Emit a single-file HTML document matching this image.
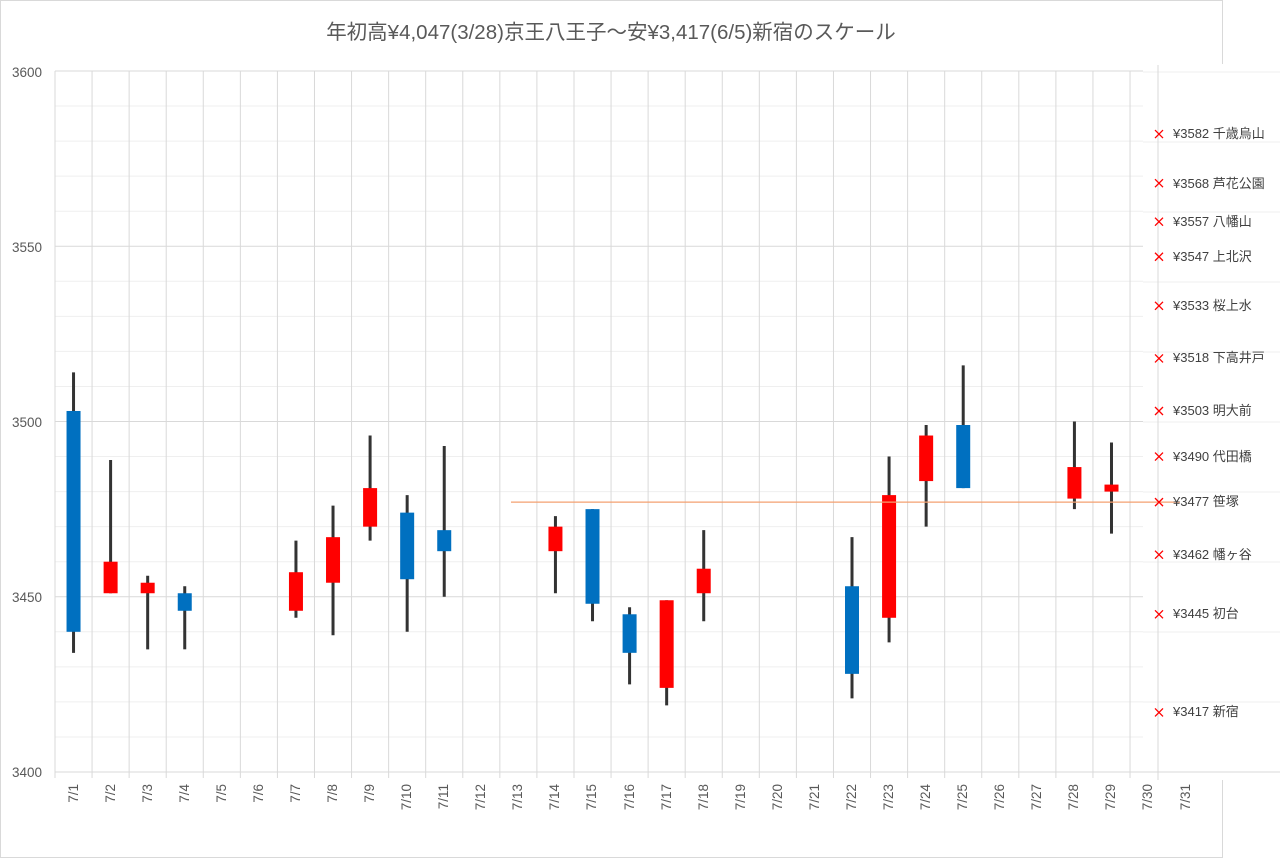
<!DOCTYPE html>
<html><head><meta charset="utf-8"><style>
html,body{margin:0;padding:0;background:#fff;}
svg{display:block;font-family:"Liberation Sans","Noto Sans CJK JP",sans-serif;}
</style></head><body>
<svg id="s" width="1280" height="859" viewBox="0 0 1280 859" xmlns="http://www.w3.org/2000/svg">
<rect x="0" y="0" width="1280" height="859" fill="#fff"/>
<rect x="0.5" y="0.5" width="1222" height="857" fill="none" stroke="#d9d9d9"/>
<g id="grid"></g>
<g id="cdl"></g>
<text x="611" y="39" text-anchor="middle" font-size="20.5" fill="#595959">年初高¥4,047(3/28)京王八王子～安¥3,417(6/5)新宿のスケール</text>
<g font-size="13.5" fill="#595959" text-anchor="end">
<text x="42" y="77">3600</text><text x="42" y="252">3550</text><text x="42" y="427">3500</text><text x="42" y="602">3450</text><text x="42" y="777">3400</text>
</g>
<g font-size="13.5" fill="#595959" text-anchor="end">
<text transform="translate(78,784) rotate(-90)">7/1</text>
<text transform="translate(115,784) rotate(-90)">7/2</text>
<text transform="translate(152,784) rotate(-90)">7/3</text>
<text transform="translate(189,784) rotate(-90)">7/4</text>
<text transform="translate(226,784) rotate(-90)">7/5</text>
<text transform="translate(263,784) rotate(-90)">7/6</text>
<text transform="translate(300,784) rotate(-90)">7/7</text>
<text transform="translate(337,784) rotate(-90)">7/8</text>
<text transform="translate(374,784) rotate(-90)">7/9</text>
<text transform="translate(411,784) rotate(-90)">7/10</text>
<text transform="translate(448,784) rotate(-90)">7/11</text>
<text transform="translate(485,784) rotate(-90)">7/12</text>
<text transform="translate(522,784) rotate(-90)">7/13</text>
<text transform="translate(559,784) rotate(-90)">7/14</text>
<text transform="translate(596,784) rotate(-90)">7/15</text>
<text transform="translate(634,784) rotate(-90)">7/16</text>
<text transform="translate(671,784) rotate(-90)">7/17</text>
<text transform="translate(708,784) rotate(-90)">7/18</text>
<text transform="translate(745,784) rotate(-90)">7/19</text>
<text transform="translate(782,784) rotate(-90)">7/20</text>
<text transform="translate(819,784) rotate(-90)">7/21</text>
<text transform="translate(856,784) rotate(-90)">7/22</text>
<text transform="translate(893,784) rotate(-90)">7/23</text>
<text transform="translate(930,784) rotate(-90)">7/24</text>
<text transform="translate(967,784) rotate(-90)">7/25</text>
<text transform="translate(1004,784) rotate(-90)">7/26</text>
<text transform="translate(1041,784) rotate(-90)">7/27</text>
<text transform="translate(1078,784) rotate(-90)">7/28</text>
<text transform="translate(1115,784) rotate(-90)">7/29</text>
<text transform="translate(1152,784) rotate(-90)">7/30</text>
<text transform="translate(1190,784) rotate(-90)">7/31</text>
</g>
<g id="mk"></g>
<g font-size="13" fill="#404040">
<text x="1173" y="138">¥3582 千歳烏山</text>
<text x="1173" y="188">¥3568 芦花公園</text>
<text x="1173" y="226">¥3557 八幡山</text>
<text x="1173" y="261">¥3547 上北沢</text>
<text x="1173" y="310">¥3533 桜上水</text>
<text x="1173" y="362">¥3518 下高井戸</text>
<text x="1173" y="415">¥3503 明大前</text>
<text x="1173" y="461">¥3490 代田橋</text>
<text x="1173" y="506">¥3477 笹塚</text>
<text x="1173" y="559">¥3462 幡ヶ谷</text>
<text x="1173" y="618">¥3445 初台</text>
<text x="1173" y="716">¥3417 新宿</text>
</g>
</svg>
<script>
const NS="http://www.w3.org/2000/svg";
function el(p,t,a){const e=document.createElementNS(NS,t);for(const k in a)e.setAttribute(k,a[k]);p.appendChild(e);return e;}
const Y=v=>772-(v-3400)*3.505, X=i=>55+37.07*(i-0.5);
const g=document.getElementById('grid');
for(let v=3400;v<=3600;v+=10){const y=Y(v);el(g,'line',{x1:55,x2:1143,y1:y,y2:y,stroke:v%50==0?'#d9d9d9':'#efefef','stroke-width':1});}
el(g,'rect',{x:1143,y:64,width:137,height:716,fill:'#fff'});
for(let k=0;k<=10;k++){const y=72+70*k;el(g,'line',{x1:1143,x2:1280,y1:y,y2:y,stroke:k==10?'#d9d9d9':'#efefef'});}
for(let k=0;k<=30;k++){const x=55+37.07*k;if(x>1140)continue;el(g,'line',{x1:x,x2:x,y1:71,y2:778,stroke:'#d9d9d9'});}
el(g,'line',{x1:1158,x2:1158,y1:65,y2:780,stroke:'#d9d9d9'});
const c=document.getElementById('cdl');
const d=[[1,3440,3503,3434,3514,'b'],[2,3451,3460,3451,3489,'r'],[3,3451,3454,3435,3456,'r'],[4,3446,3451,3435,3453,'b'],
[7,3446,3457,3444,3466,'r'],[8,3454,3467,3439,3476,'r'],[9,3470,3481,3466,3496,'r'],[10,3455,3474,3440,3479,'b'],[11,3463,3469,3450,3493,'b'],
[14,3463,3470,3451,3473,'r'],[15,3448,3475,3443,3475,'b'],[16,3434,3445,3425,3447,'b'],[17,3424,3449,3419,3449,'r'],[18,3451,3458,3443,3469,'r'],
[22,3428,3453,3421,3467,'b'],[23,3444,3479,3437,3490,'r'],[24,3483,3496,3470,3499,'r'],[25,3481,3499,3481,3516,'b'],[28,3478,3487,3475,3500,'r'],[29,3480,3482,3468,3494,'r']];
for(const [i,lo,hi,l,h,col] of d){const x=X(i);
el(c,'line',{x1:x,x2:x,y1:Y(h),y2:Y(l),stroke:'#333','stroke-width':3});
el(c,'rect',{x:x-7,y:Y(hi),width:14,height:Y(lo)-Y(hi),fill:col=='b'?'#0070c0':'#ff0000'});}
el(c,'line',{x1:511,x2:1180,y1:Y(3477),y2:Y(3477),stroke:'#f4a070','stroke-width':1.2});
const m=document.getElementById('mk');
for(const v of [3582,3568,3557,3547,3533,3518,3503,3490,3477,3462,3445,3417]){const y=Y(v),x=1159;
el(m,'path',{d:`M${x-4},${y-4}L${x+4},${y+4}M${x-4},${y+4}L${x+4},${y-4}`,stroke:'#ff0000','stroke-width':1.3});}
</script>
</body></html>
